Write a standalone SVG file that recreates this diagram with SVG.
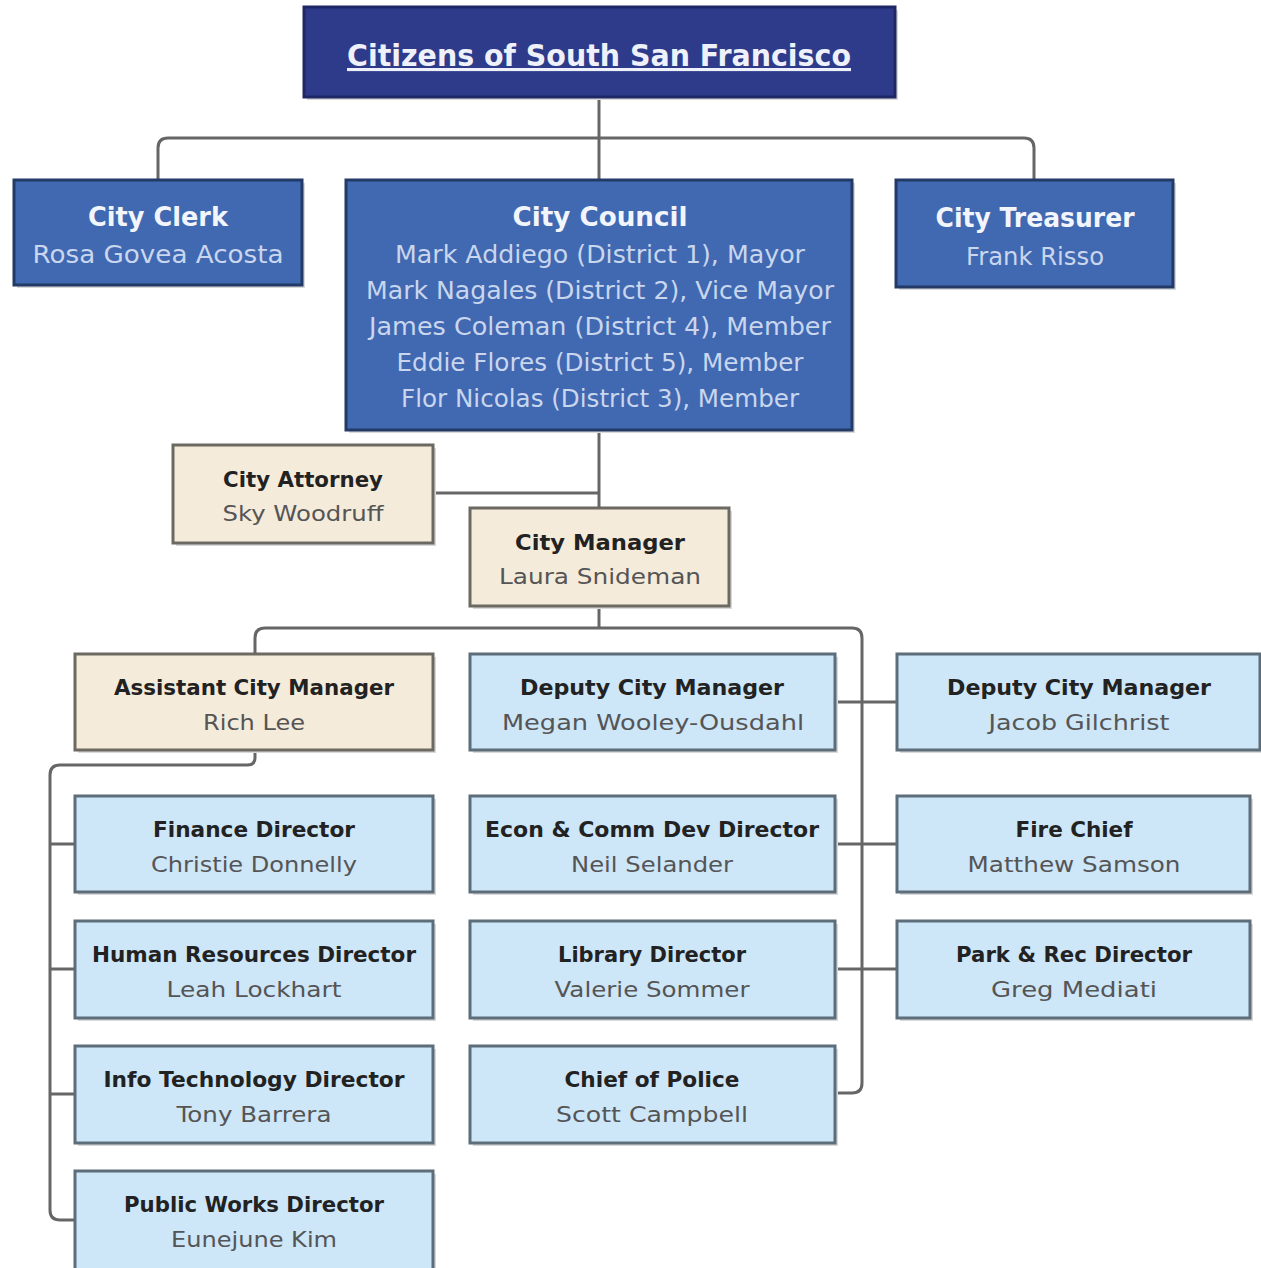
<svg xmlns="http://www.w3.org/2000/svg" width="1261" height="1268" viewBox="0 0 1261 1268">
<style>
.conn{fill:none;stroke:#666;stroke-width:3}
.shadow{fill:#d9d9d9}
.top{fill:#2e3b8b;stroke:#1f2865;stroke-width:3}
.blue{fill:#4169b1;stroke:#233a66;stroke-width:3}
.beige{fill:#f4ebdb;stroke:#6c6963;stroke-width:3}
.lb{fill:#cde6f8;stroke:#5d6d7a;stroke-width:3}
text{font-family:"DejaVu Sans","Liberation Sans",sans-serif;text-anchor:middle}
.tt{font-size:31px;font-weight:bold;fill:#eef1fa;text-decoration:underline}
.bt{font-size:26px;font-weight:bold;fill:#f2f5fb}
.bn{font-size:24px;fill:#c9d6ee}
.dt{font-size:22px;font-weight:bold;fill:#222}
.dn{font-size:22px;fill:#555}
</style>
<g id="connectors">
<path class="conn" d="M599,97 V180"/>
<path class="conn" d="M158,180 V148 Q158,138 168,138 H1024 Q1034,138 1034,148 V180"/>
<path class="conn" d="M599,430 V508"/>
<path class="conn" d="M433,493 H599"/>
<path class="conn" d="M599,606 V628"/>
<path class="conn" d="M255,654 V638 Q255,628 265,628 H852 Q862,628 862,638 V1083 Q862,1093 852,1093 H835"/>
<path class="conn" d="M835,702 H897 M835,844 H897 M835,969 H897"/>
<path class="conn" d="M255,750 V758 Q255,765 247,765 H60 Q50,765 50,775 V1210 Q50,1220 60,1220 H75"/>
<path class="conn" d="M50,844 H75 M50,969 H75 M50,1094 H75"/>
</g>
<g id="citizens">
<rect class="shadow" x="307" y="10" width="591" height="90"/>
<rect class="top" x="304" y="7" width="591" height="90"/>
<text class="tt" x="599" y="66" textLength="504" lengthAdjust="spacingAndGlyphs">Citizens of South San Francisco</text>
</g>
<g id="city-clerk">
<rect class="shadow" x="17" y="183" width="288" height="105"/>
<rect class="blue" x="14" y="180" width="288" height="105"/>
<text class="bt" x="158" y="226" textLength="140" lengthAdjust="spacingAndGlyphs">City Clerk</text>
<text class="bn" x="158" y="263" textLength="251" lengthAdjust="spacingAndGlyphs">Rosa Govea Acosta</text>
</g>
<g id="city-council">
<rect class="shadow" x="349" y="183" width="506" height="250"/>
<rect class="blue" x="346" y="180" width="506" height="250"/>
<text class="bt" x="600" y="226" textLength="175" lengthAdjust="spacingAndGlyphs">City Council</text>
<text class="bn" x="600" y="263" textLength="410" lengthAdjust="spacingAndGlyphs">Mark Addiego (District 1), Mayor</text>
<text class="bn" x="600" y="299" textLength="468" lengthAdjust="spacingAndGlyphs">Mark Nagales (District 2), Vice Mayor</text>
<text class="bn" x="600" y="335" textLength="462" lengthAdjust="spacingAndGlyphs">James Coleman (District 4), Member</text>
<text class="bn" x="600" y="371" textLength="407" lengthAdjust="spacingAndGlyphs">Eddie Flores (District 5), Member</text>
<text class="bn" x="600" y="407" textLength="398" lengthAdjust="spacingAndGlyphs">Flor Nicolas (District 3), Member</text>
</g>
<g id="city-treasurer">
<rect class="shadow" x="899" y="183" width="277" height="107"/>
<rect class="blue" x="896" y="180" width="277" height="107"/>
<text class="bt" x="1035" y="227" textLength="199" lengthAdjust="spacingAndGlyphs">City Treasurer</text>
<text class="bn" x="1035" y="265" textLength="138" lengthAdjust="spacingAndGlyphs">Frank Risso</text>
</g>
<g id="city-attorney">
<rect class="shadow" x="176" y="448" width="260" height="98"/>
<rect class="beige" x="173" y="445" width="260" height="98"/>
<text class="dt" x="303" y="487" textLength="160" lengthAdjust="spacingAndGlyphs">City Attorney</text>
<text class="dn" x="303" y="521" textLength="161" lengthAdjust="spacingAndGlyphs">Sky Woodruff</text>
</g>
<g id="city-manager">
<rect class="shadow" x="473" y="511" width="259" height="98"/>
<rect class="beige" x="470" y="508" width="259" height="98"/>
<text class="dt" x="600" y="550" textLength="170" lengthAdjust="spacingAndGlyphs">City Manager</text>
<text class="dn" x="600" y="584" textLength="202" lengthAdjust="spacingAndGlyphs">Laura Snideman</text>
</g>
<g id="assistant-city-manager">
<rect class="shadow" x="78" y="657" width="358" height="96"/>
<rect class="beige" x="75" y="654" width="358" height="96"/>
<text class="dt" x="254" y="695" textLength="280" lengthAdjust="spacingAndGlyphs">Assistant City Manager</text>
<text class="dn" x="254" y="730" textLength="102" lengthAdjust="spacingAndGlyphs">Rich Lee</text>
</g>
<g id="deputy-megan">
<rect class="shadow" x="473" y="657" width="365" height="96"/>
<rect class="lb" x="470" y="654" width="365" height="96"/>
<text class="dt" x="652" y="695" textLength="264" lengthAdjust="spacingAndGlyphs">Deputy City Manager</text>
<text class="dn" x="653" y="730" textLength="302" lengthAdjust="spacingAndGlyphs">Megan Wooley-Ousdahl</text>
</g>
<g id="deputy-jacob">
<rect class="shadow" x="900" y="657" width="363" height="96"/>
<rect class="lb" x="897" y="654" width="363" height="96"/>
<text class="dt" x="1079" y="695" textLength="264" lengthAdjust="spacingAndGlyphs">Deputy City Manager</text>
<text class="dn" x="1079" y="730" textLength="181" lengthAdjust="spacingAndGlyphs">Jacob Gilchrist</text>
</g>
<g id="finance-director">
<rect class="shadow" x="78" y="799" width="358" height="96"/>
<rect class="lb" x="75" y="796" width="358" height="96"/>
<text class="dt" x="254" y="837" textLength="202" lengthAdjust="spacingAndGlyphs">Finance Director</text>
<text class="dn" x="254" y="872" textLength="206" lengthAdjust="spacingAndGlyphs">Christie Donnelly</text>
</g>
<g id="econ-director">
<rect class="shadow" x="473" y="799" width="365" height="96"/>
<rect class="lb" x="470" y="796" width="365" height="96"/>
<text class="dt" x="652" y="837" textLength="334" lengthAdjust="spacingAndGlyphs">Econ &amp; Comm Dev Director</text>
<text class="dn" x="652" y="872" textLength="162" lengthAdjust="spacingAndGlyphs">Neil Selander</text>
</g>
<g id="fire-chief">
<rect class="shadow" x="900" y="799" width="353" height="96"/>
<rect class="lb" x="897" y="796" width="353" height="96"/>
<text class="dt" x="1074" y="837" textLength="117" lengthAdjust="spacingAndGlyphs">Fire Chief</text>
<text class="dn" x="1074" y="872" textLength="213" lengthAdjust="spacingAndGlyphs">Matthew Samson</text>
</g>
<g id="hr-director">
<rect class="shadow" x="78" y="924" width="358" height="97"/>
<rect class="lb" x="75" y="921" width="358" height="97"/>
<text class="dt" x="254" y="962" textLength="324" lengthAdjust="spacingAndGlyphs">Human Resources Director</text>
<text class="dn" x="254" y="997" textLength="175" lengthAdjust="spacingAndGlyphs">Leah Lockhart</text>
</g>
<g id="library-director">
<rect class="shadow" x="473" y="924" width="365" height="97"/>
<rect class="lb" x="470" y="921" width="365" height="97"/>
<text class="dt" x="652" y="962" textLength="188" lengthAdjust="spacingAndGlyphs">Library Director</text>
<text class="dn" x="652" y="997" textLength="195" lengthAdjust="spacingAndGlyphs">Valerie Sommer</text>
</g>
<g id="park-rec-director">
<rect class="shadow" x="900" y="924" width="353" height="97"/>
<rect class="lb" x="897" y="921" width="353" height="97"/>
<text class="dt" x="1074" y="962" textLength="236" lengthAdjust="spacingAndGlyphs">Park &amp; Rec Director</text>
<text class="dn" x="1074" y="997" textLength="166" lengthAdjust="spacingAndGlyphs">Greg Mediati</text>
</g>
<g id="it-director">
<rect class="shadow" x="78" y="1049" width="358" height="97"/>
<rect class="lb" x="75" y="1046" width="358" height="97"/>
<text class="dt" x="254" y="1087" textLength="301" lengthAdjust="spacingAndGlyphs">Info Technology Director</text>
<text class="dn" x="254" y="1122" textLength="155" lengthAdjust="spacingAndGlyphs">Tony Barrera</text>
</g>
<g id="chief-of-police">
<rect class="shadow" x="473" y="1049" width="365" height="97"/>
<rect class="lb" x="470" y="1046" width="365" height="97"/>
<text class="dt" x="652" y="1087" textLength="175" lengthAdjust="spacingAndGlyphs">Chief of Police</text>
<text class="dn" x="652" y="1122" textLength="192" lengthAdjust="spacingAndGlyphs">Scott Campbell</text>
</g>
<g id="public-works-director">
<rect class="shadow" x="78" y="1174" width="358" height="100"/>
<rect class="lb" x="75" y="1171" width="358" height="100"/>
<text class="dt" x="254" y="1212" textLength="260" lengthAdjust="spacingAndGlyphs">Public Works Director</text>
<text class="dn" x="254" y="1247" textLength="166" lengthAdjust="spacingAndGlyphs">Eunejune Kim</text>
</g>
</svg>
